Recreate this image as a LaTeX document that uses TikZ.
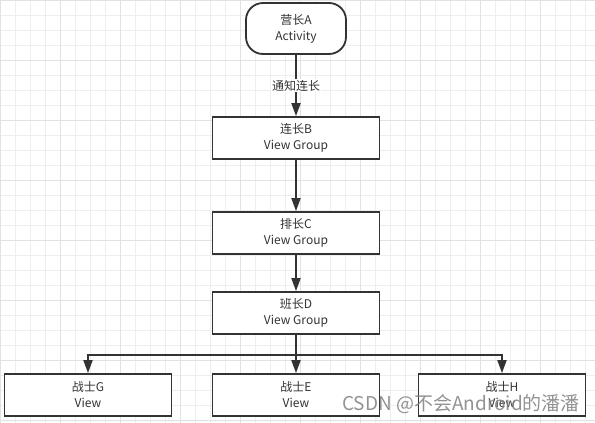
\documentclass[tikz,border=0pt]{standalone}
\usepackage{fontspec}
\setmainfont{Noto Sans CJK SC}
\usetikzlibrary{arrows.meta}
\definecolor{lc}{HTML}{333333}
\definecolor{gridc}{HTML}{EEEEEE}
\definecolor{gridd}{HTML}{E2E2E2}
\begin{document}
\begin{tikzpicture}[x=1pt,y=-1pt,
  box/.style={draw=lc,line width=1.8pt,fill=white,minimum width=167pt,minimum height=42pt,inner sep=0pt,align=center,text=lc,font=\fontsize{12}{16}\selectfont},
  term/.style={draw=lc,line width=1.8pt,fill=white,rounded corners=17pt,minimum width=100pt,minimum height=51pt,inner sep=0pt,align=center,text=lc,font=\fontsize{12}{16}\selectfont},
  conn/.style={draw=lc,line width=1.8pt,-{Triangle[length=13pt,width=9pt]}}]
\useasboundingbox (0,0) rectangle (595,423);
\fill[white] (0,0) rectangle (595,423);
\foreach \i in {0,15,...,595} {\draw[gridc,line width=1pt] (\i,0) -- (\i,423);}
\foreach \i in {0,15,...,423} {\draw[gridc,line width=1pt] (0,\i) -- (595,\i);}
\foreach \i in {0,60,...,595} {\draw[gridd,line width=1pt] (\i,0) -- (\i,423);}
\foreach \i in {0,60,...,423} {\draw[gridd,line width=1pt] (0,\i) -- (595,\i);}
\node[term] (A) at (296,28.5) {营长A\\Activity};
\node[box] (B) at (296,138) {连长B\\View Group};
\node[box] (C) at (296,233) {排长C\\View Group};
\node[box] (D) at (296,313) {班长D\\View Group};
\node[box] (G) at (88,395) {战士G\\View};
\node[box] (E) at (296,395) {战士E\\View};
\node[box] (H) at (502,395) {战士H\\View};
\coordinate (bus) at (296,355);
\draw[conn] (A) -- node[fill=white,inner sep=1pt,text=lc,font=\fontsize{12}{14}\selectfont] {通知连长} (B);
\draw[conn] (B) -- (C);
\draw[conn] (C) -- (D);
\draw[conn] (D) -- (E);
\draw[conn] (D.south) |- (bus) -| (G.north);
\draw[conn] (D.south) |- (bus) -| (H.north);
\node[anchor=east,text=gray,opacity=0.85,font=\fontsize{19}{21}\selectfont,inner sep=0pt] (wm) at (580,404) {CSDN @不会Android的潘潘};
\end{tikzpicture}
\end{document}
